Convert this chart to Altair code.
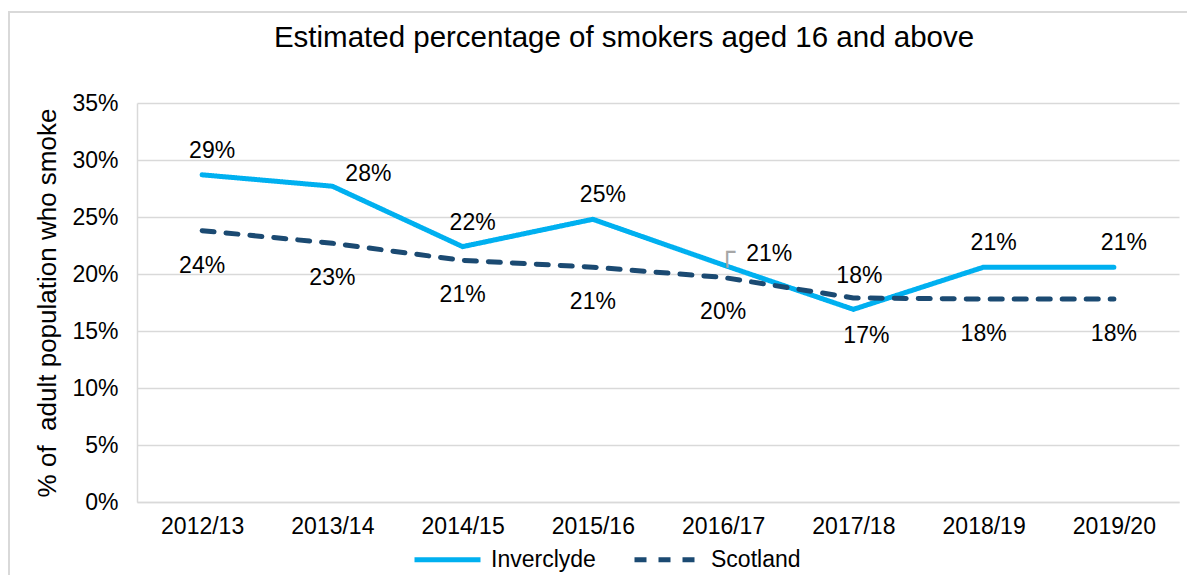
import altair as alt
import pandas as pd

years = ["2012/13", "2013/14", "2014/15", "2015/16", "2016/17", "2017/18", "2018/19", "2019/20"]
inverclyde = [28.7, 27.7, 22.4, 24.8, 20.8, 16.9, 20.6, 20.6]
scotland = [23.8, 22.7, 21.2, 20.6, 19.7, 17.9, 17.8, 17.8]
series_names = ["Inverclyde", "Scotland"]
y_ticks = [0, 0.05, 0.10, 0.15, 0.20, 0.25, 0.30, 0.35]

rows = []
for yr, a, b in zip(years, inverclyde, scotland):
    rows.append({"year": yr, "series": "Inverclyde", "value": a / 100})
    rows.append({"year": yr, "series": "Scotland", "value": b / 100})
df = pd.DataFrame(rows)

W, H = 1042, 399
FONT = "Liberation Sans"
GRID = "#D9D9D9"
COLORS = ["#00B0F0", "#1B4A72"]

x_enc = alt.X(
    "year:N", sort=years,
    scale=alt.Scale(type="point", padding=0.5),
    axis=alt.Axis(title=None, labelAngle=0, ticks=False, tickSize=0, labelPadding=13,
                  labelFontSize=23, labelFont=FONT, labelColor="black",
                  domainColor=GRID, domainWidth=1.5, grid=False),
)
y_enc = alt.Y(
    "value:Q",
    scale=alt.Scale(domain=[0, 0.35], nice=False),
    axis=alt.Axis(values=y_ticks, format=".0%", title="% of\u00a0 adult population who smoke",
                  titleFontSize=26, titleFont=FONT, titleFontWeight="normal", titleColor="black",
                  titlePadding=11, labelFontSize=23, labelFont=FONT, labelColor="black",
                  labelPadding=19, ticks=False, tickSize=0, domainColor=GRID, domainWidth=1.5,
                  gridColor=GRID, gridWidth=1.5),
)
color_enc = alt.Color("series:N", scale=alt.Scale(domain=series_names, range=COLORS), title=None)
dash_enc = alt.StrokeDash("series:N", scale=alt.Scale(domain=series_names, range=[[1, 0], [12, 12]]), title=None)

base = alt.Chart(df)

lines = base.mark_line(strokeWidth=5, strokeCap="round", strokeJoin="round").encode(
    x=x_enc, y=y_enc, color=color_enc, strokeDash=dash_enc, detail="series:N"
)

def labels(series, cond, dx, dy, align="center"):
    return base.transform_filter(
        (alt.datum.series == series) & cond
    ).mark_text(fontSize=23, font=FONT, color="black", dx=dx, dy=dy, align=align).encode(
        x=alt.X("year:N", sort=years), y="value:Q", text=alt.Text("value:Q", format=".0%")
    )

special_a = (alt.datum.year == "2013/14") | (alt.datum.year == "2016/17") | (alt.datum.year == "2017/18")
lab_inv = labels("Inverclyde", ~special_a, 10, -24)
lab_inv_1314 = labels("Inverclyde", alt.datum.year == "2013/14", 36, -12)
lab_inv_1617 = labels("Inverclyde", alt.datum.year == "2016/17", 23, -11, "left")
lab_inv_1718 = labels("Inverclyde", alt.datum.year == "2017/18", 13, 27)
lab_sco = labels("Scotland", alt.datum.year != "2017/18", 0, 35)
lab_sco_1718 = labels("Scotland", alt.datum.year == "2017/18", 6, -22)

leader = base.transform_filter(
    (alt.datum.series == "Inverclyde") & (alt.datum.year == "2016/17")
).mark_text(text="┌", font="DejaVu Sans Mono", fontSize=27, color="#A6A6A6", dx=4, dy=-12).encode(
    x=alt.X("year:N", sort=years), y="value:Q"
)

border = alt.Chart(pd.DataFrame({"k": [0]})).mark_rect(
    fillOpacity=0, stroke=GRID, strokeWidth=2
).encode(x=alt.value(-128), x2=alt.value(W + 40), y=alt.value(-91), y2=alt.value(H + 120))

chart = alt.layer(
    border, lines, lab_inv, lab_inv_1314, lab_inv_1617, lab_inv_1718, lab_sco, lab_sco_1718, leader
).properties(
    width=W, height=H,
    autosize=alt.AutoSizeParams(type="none"),
    padding={"left": 129, "top": 95, "right": 8, "bottom": 73},
    title=alt.TitleParams("Estimated percentage of smokers aged 16 and above", fontSize=29.5,
                          font=FONT, fontWeight="normal", color="black", anchor="middle",
                          frame="group", dx=-34, offset=-42),
).configure_view(stroke=None).configure_legend(
    orient="none", legendX=275, legendY=421, direction="horizontal",
    symbolType="stroke", symbolSize=4356, symbolStrokeWidth=5,
    labelFontSize=23, labelFont=FONT, labelColor="black", labelOffset=8,
    columnPadding=28, title=None,
)

chart.save("out.html", embed_options={"renderer": "svg", "actions": False})
